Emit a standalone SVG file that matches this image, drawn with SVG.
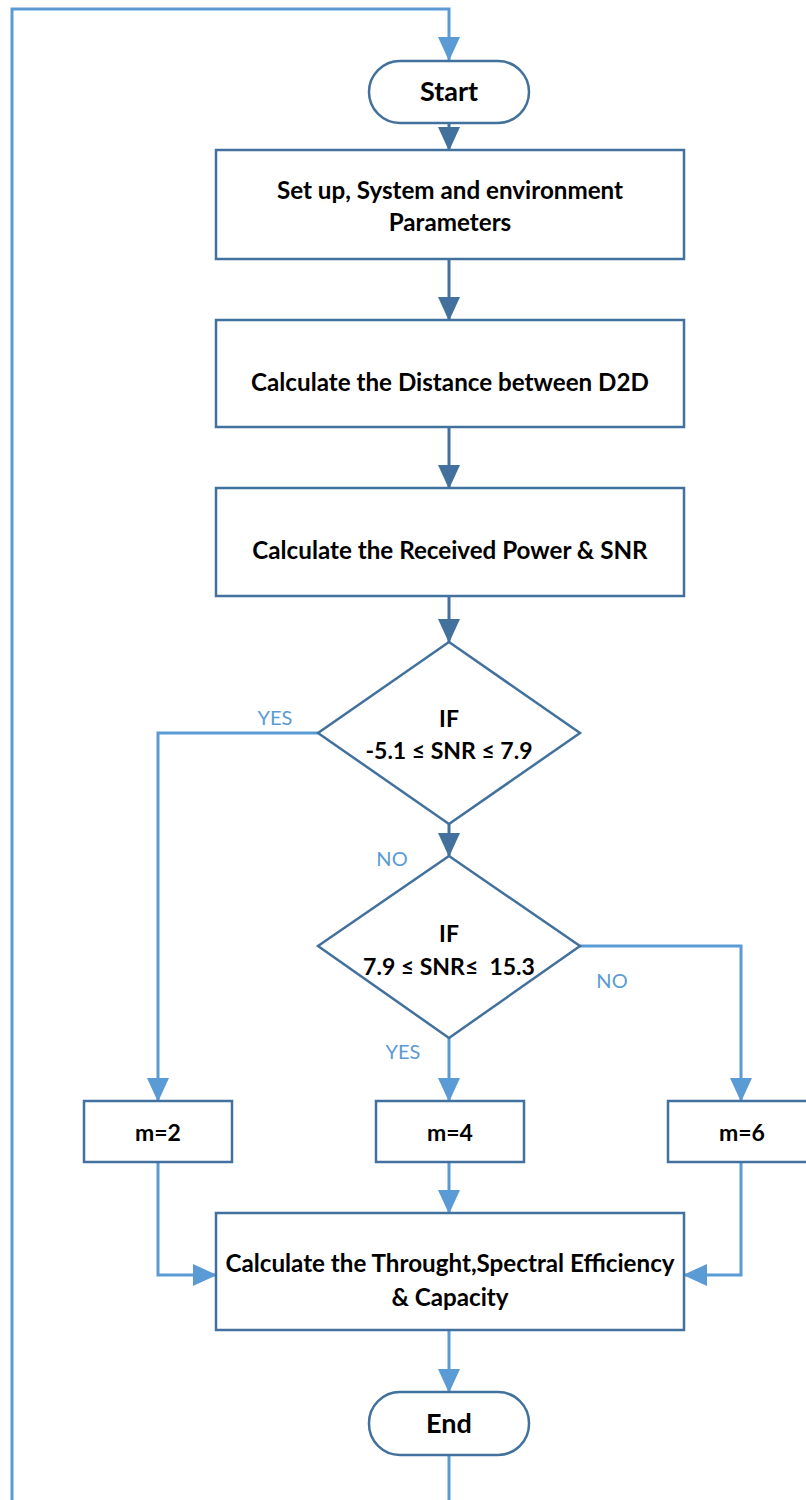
<svg xmlns="http://www.w3.org/2000/svg" width="806" height="1500" viewBox="0 0 806 1500">
<style>
.box{fill:#fff;stroke:#41719C;stroke-width:2.5}
.t{font-family:Lato,"Open Sans","Liberation Sans",sans-serif;font-weight:bold;font-size:24.2px;fill:#000;text-anchor:middle}
.tt{font-size:27px}
.td{font-size:23px}
.dk{fill:none;stroke:#41719C;stroke-width:3}
.lt{fill:none;stroke:#5B9BD5;stroke-width:3}
.lab{font-family:Lato,"Open Sans","Liberation Sans",sans-serif;font-size:20px;fill:#5B9BD5;text-anchor:middle}
</style>
<defs>
<marker id="ad" markerUnits="userSpaceOnUse" markerWidth="24" markerHeight="22" viewBox="0 0 24 22" refX="23" refY="11" orient="auto"><path d="M0,0 L24,11 L0,22 z" fill="#41719C"/></marker>
<marker id="al" markerUnits="userSpaceOnUse" markerWidth="24" markerHeight="22" viewBox="0 0 24 22" refX="23" refY="11" orient="auto"><path d="M0,0 L24,11 L0,22 z" fill="#5B9BD5"/></marker>
</defs>
<rect width="806" height="1500" fill="#fff"/>
<g id="connectors">
<path class="lt" d="M12,1500 V9 H449 V60" marker-end="url(#al)"/>
<path class="dk" d="M449,123 V150" marker-end="url(#ad)"/>
<path class="dk" d="M449,259 V320" marker-end="url(#ad)"/>
<path class="dk" d="M449,427 V488" marker-end="url(#ad)"/>
<path class="dk" d="M449,596 V642" marker-end="url(#ad)"/>
<path class="lt" d="M318,733 H158 V1101" marker-end="url(#al)"/>
<path class="dk" d="M449,824 V856" marker-end="url(#ad)"/>
<path class="lt" d="M580,946 H741 V1101" marker-end="url(#al)"/>
<path class="lt" d="M449,1038 V1101" marker-end="url(#al)"/>
<path class="lt" d="M158,1162 V1275 H216" marker-end="url(#al)"/>
<path class="lt" d="M449,1162 V1213" marker-end="url(#al)"/>
<path class="lt" d="M741,1162 V1275 H684" marker-end="url(#al)"/>
<path class="lt" d="M449,1330 V1392" marker-end="url(#al)"/>
<path class="lt" d="M449,1455 V1500"/>
<text class="lab" x="275" y="725">YES</text>
<text class="lab" x="392" y="866">NO</text>
<text class="lab" x="612" y="988">NO</text>
<text class="lab" x="403" y="1059">YES</text>
</g>
<g id="start"><rect class="box" x="369" y="61" width="160" height="62" rx="31"/><text class="t tt" x="449" y="101">Start</text></g>
<g id="setup"><rect class="box" x="216" y="150" width="468" height="109"/><text class="t" x="450" y="199">Set up, System and environment</text><text class="t" x="450" y="231">Parameters</text></g>
<g id="distance"><rect class="box" x="216" y="320" width="468" height="107"/><text class="t" x="450" y="391">Calculate the Distance between D2D</text></g>
<g id="received"><rect class="box" x="216" y="488" width="468" height="108"/><text class="t" x="450" y="559">Calculate the Received Power &amp; SNR</text></g>
<g id="if1"><polygon class="box" points="449,642 580,733 449,824 318,733"/><text class="t td" x="449" y="727">IF</text><text class="t td" x="449" y="759">-5.1 ≤ SNR ≤ 7.9</text></g>
<g id="if2"><polygon class="box" points="449,856 580,946 449,1038 318,946"/><text class="t td" x="449" y="942">IF</text><text class="t td" x="449" y="975" xml:space="preserve">7.9 ≤ SNR≤  15.3</text></g>
<g id="m2"><rect class="box" x="84" y="1101" width="148" height="61"/><text class="t td" x="158" y="1141">m=2</text></g>
<g id="m4"><rect class="box" x="376" y="1101" width="148" height="61"/><text class="t td" x="450" y="1141">m=4</text></g>
<g id="m6"><rect class="box" x="668" y="1101" width="148" height="61"/><text class="t td" x="742" y="1141">m=6</text></g>
<g id="calc"><rect class="box" x="216" y="1213" width="468" height="117"/><text class="t" x="450" y="1272">Calculate the Throught,Spectral Efficiency</text><text class="t" x="450" y="1306">&amp; Capacity</text></g>
<g id="end"><rect class="box" x="369" y="1392" width="160" height="63" rx="31"/><text class="t tt" x="449" y="1433">End</text></g>
</svg>
